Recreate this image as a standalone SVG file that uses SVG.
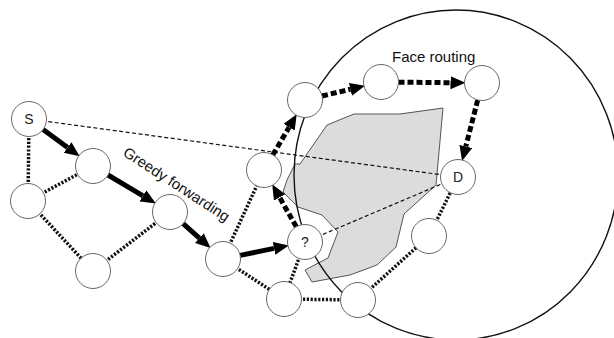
<svg xmlns="http://www.w3.org/2000/svg" width="614" height="338" viewBox="0 0 614 338">
<style>
.node{fill:#fff;stroke:#666;stroke-width:1}
.lbl{font-family:"Liberation Sans",Arial,sans-serif;font-size:14px;fill:#222;text-anchor:middle}
.txt{font-family:"Liberation Sans",Arial,sans-serif;font-size:15px;fill:#111}
.dot{stroke:#111;stroke-width:3.5;stroke-dasharray:2.2 1.6;fill:none}
.thin{stroke:#111;stroke-width:1.2;stroke-dasharray:4 2.5;fill:none}
.greedy{stroke:#000;stroke-width:5;fill:none;marker-end:url(#ah)}
.face{stroke:#000;stroke-width:5;stroke-dasharray:6 3;fill:none;marker-end:url(#ah)}
</style>
<defs>
<marker id="ah" markerUnits="userSpaceOnUse" markerWidth="16" markerHeight="14" refX="0" refY="6.5" orient="auto" viewBox="0 0 16 14"><path d="M0,0 L15,6.5 L0,13 z" fill="#000"/></marker>
</defs>
<rect width="614" height="338" fill="#fff"/>
<polygon id="obstacle" points="300,164 327,125 354,114 400,114 443,108 436,185 404,214 396,247 377,265 350,275 312,282 305,270 328,258 338,232 322,215 298,207 283,192 287,180 295,164" fill="#dcdcdc" stroke="#555" stroke-width="1"/>
<ellipse id="range" cx="456" cy="175" rx="162" ry="165" fill="none" stroke="#111" stroke-width="1.4"/>
<g id="connectors">
<line class="thin" x1="29" y1="119" x2="458" y2="177"/>
<line class="thin" x1="305" y1="242" x2="458" y2="177"/>
<line class="dot" x1="29" y1="119" x2="28" y2="201"/>
<line class="dot" x1="28" y1="201" x2="93" y2="166"/>
<line class="dot" x1="28" y1="201" x2="93" y2="271"/>
<line class="dot" x1="93" y1="271" x2="170" y2="212"/>
<line class="dot" x1="223" y1="259" x2="264" y2="170"/>
<line class="dot" x1="223" y1="259" x2="284" y2="299"/>
<line class="dot" x1="305" y1="242" x2="284" y2="299"/>
<line class="dot" x1="284" y1="299" x2="358" y2="300"/>
<line class="dot" x1="358" y1="300" x2="429" y2="236"/>
<line class="dot" x1="429" y1="236" x2="458" y2="177"/>
<line class="greedy" x1="43.1" y1="129.4" x2="67.6" y2="147.4"/>
<line class="greedy" x1="108" y1="175" x2="143" y2="195.8"/>
<line class="greedy" x1="183.1" y1="223.6" x2="199.4" y2="238.1"/>
<line class="greedy" x1="240.1" y1="255.4" x2="274.1" y2="248.4"/>
<line class="face" x1="296.3" y1="226.8" x2="279.6" y2="197.4"/>
<line class="face" x1="272.8" y1="154.9" x2="289.1" y2="127.2"/>
<line class="face" x1="322" y1="96" x2="350.4" y2="89.3"/>
<line class="face" x1="398.5" y1="82.2" x2="450.5" y2="82.7"/>
<line class="face" x1="477.7" y1="100" x2="465.8" y2="146.5"/>
</g>
<g id="S"><circle class="node" cx="29" cy="119" r="17.5"/><text class="lbl" x="29" y="124">S</text></g>
<g id="n1"><circle class="node" cx="93" cy="166" r="17.5"/></g>
<g id="n2"><circle class="node" cx="28" cy="201" r="17.5"/></g>
<g id="n3"><circle class="node" cx="93" cy="271" r="17.5"/></g>
<g id="n4"><circle class="node" cx="170" cy="212" r="17.5"/></g>
<g id="n5"><circle class="node" cx="223" cy="259" r="17.5"/></g>
<g id="n6"><circle class="node" cx="264" cy="170" r="17.5"/></g>
<g id="n7"><circle class="node" cx="305" cy="100" r="17.5"/></g>
<g id="Q"><circle class="node" cx="305" cy="242" r="17.5"/><text class="lbl" x="305" y="247">?</text></g>
<g id="n8"><circle class="node" cx="284" cy="299" r="17.5"/></g>
<g id="n9"><circle class="node" cx="358" cy="300" r="17.5"/></g>
<g id="n10"><circle class="node" cx="381" cy="82" r="17.5"/></g>
<g id="n11"><circle class="node" cx="482" cy="83" r="17.5"/></g>
<g id="D"><circle class="node" cx="458" cy="177" r="17.5"/><text class="lbl" x="458" y="182">D</text></g>
<g id="n12"><circle class="node" cx="429" cy="236" r="17.5"/></g>
<text class="txt" x="392" y="62">Face routing</text>
<text class="txt" transform="translate(122,155) rotate(33)">Greedy forwarding</text>
</svg>
